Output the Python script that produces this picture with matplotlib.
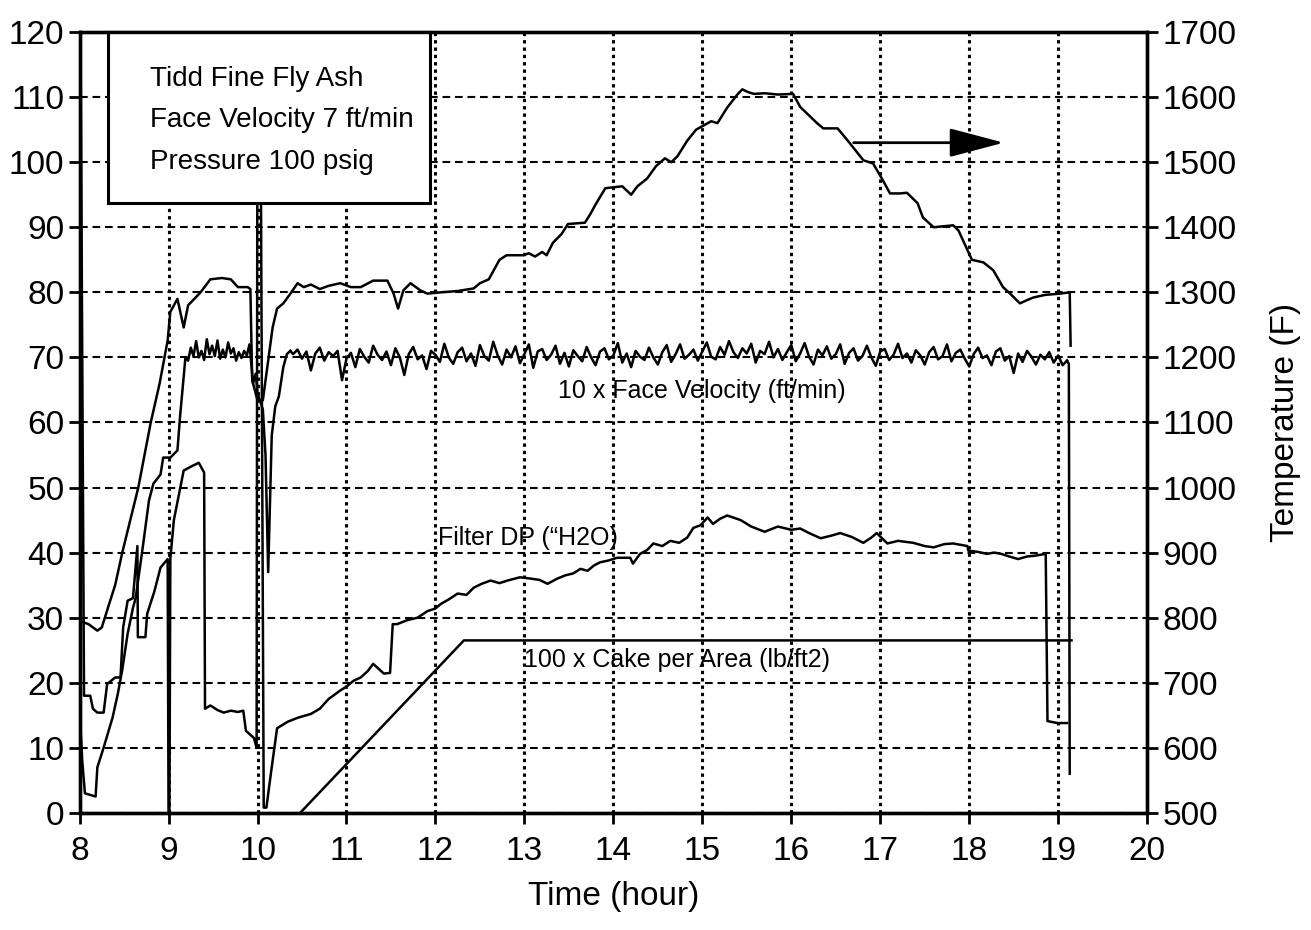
import numpy as np
import matplotlib.pyplot as plt
from matplotlib.patches import Rectangle, FancyArrowPatch

plt.rcParams['font.family'] = ['Liberation Sans', 'DejaVu Sans']

# Temperature (F), right axis
temp_t = [8.0, 8.1, 8.2, 8.25, 8.33, 8.4, 8.48, 8.57, 8.66, 8.73, 8.8, 8.9, 8.99,
          9.02, 9.1, 9.17, 9.22, 9.36, 9.47, 9.6, 9.7, 9.78, 9.89, 9.92, 9.94, 10.0,
          10.06, 10.12, 10.17, 10.22, 10.29, 10.37, 10.45, 10.52, 10.6, 10.7, 10.8,
          10.93, 11.05, 11.16, 11.3, 11.46, 11.53, 11.58, 11.64, 11.72, 11.83, 11.91,
          12.06, 12.25, 12.43, 12.5, 12.6, 12.72, 12.8, 12.99, 13.05, 13.12, 13.2,
          13.25, 13.32, 13.42, 13.49, 13.68, 13.74, 13.8, 13.91, 14.1, 14.2, 14.27,
          14.38, 14.48, 14.58, 14.65, 14.72, 14.83, 14.93, 15.1, 15.17, 15.28, 15.4,
          15.45, 15.51, 15.58, 15.7, 15.85, 16.02, 16.1, 16.29, 16.36, 16.52, 16.63,
          16.81, 16.92, 17.03, 17.11, 17.22, 17.3, 17.42, 17.48, 17.6, 17.82, 17.88,
          17.98, 18.03, 18.16, 18.27, 18.38, 18.46, 18.57, 18.65, 18.72, 18.85, 19.02,
          19.13, 19.14]
temp_f = [795, 790, 780, 785, 820, 850, 900, 950, 1000, 1050, 1100, 1160, 1226,
          1270, 1290, 1246, 1280, 1300, 1320, 1322, 1320, 1308, 1308, 1305, 1165, 1134,
          1134, 1195, 1246, 1275, 1283, 1298, 1314, 1308, 1312, 1305, 1310,
          1314, 1308, 1308, 1318, 1318, 1298, 1275, 1303, 1314, 1303, 1298,
          1300, 1302, 1306, 1314, 1320, 1350, 1357, 1357, 1360, 1355, 1362,
          1357, 1376, 1390, 1405, 1407, 1420, 1435, 1460, 1463, 1450, 1463,
          1475, 1494, 1506, 1500, 1509, 1533, 1550, 1563, 1560, 1584, 1605,
          1612, 1608, 1605, 1606, 1604, 1605, 1585, 1560, 1552, 1552, 1534,
          1503, 1498, 1472, 1452, 1452, 1453, 1437, 1415, 1400, 1403, 1395,
          1365, 1350, 1346, 1334, 1308, 1298, 1283, 1288, 1292, 1296, 1298,
          1300, 1218]

# 10 x Face Velocity (ft/min)
fv_t0 = [8.0, 8.03, 8.06, 8.18, 8.2, 8.27, 8.37, 8.43, 8.48, 8.54, 8.6, 8.63, 8.71,
         8.78, 8.83, 8.91, 8.94, 9.02, 9.1, 9.13, 9.19, 9.22, 9.25, 9.28, 9.31, 9.34,
         9.37, 9.40, 9.43, 9.46, 9.49, 9.52, 9.55, 9.58, 9.61, 9.64, 9.67, 9.70, 9.73,
         9.76, 9.79, 9.82, 9.85, 9.88, 9.91, 9.93, 9.95, 9.98, 10.0, 10.06, 10.09,
         10.12, 10.16, 10.2, 10.24, 10.29, 10.33, 10.37]
fv_v0 = [16, 8, 3, 2.5, 7, 10, 14.6, 18.3, 22, 27.5, 31.5, 33, 40.8,
         48, 50.6, 52, 54.6, 54.6, 55.7, 61, 70, 69.5, 71.5, 70.2, 72.5, 70.0,
         71.0, 69.6, 72.8, 70.5, 71.8, 70.2, 72.6, 69.8, 71.2, 70.0, 72.3, 70.6, 71.4,
         69.5, 70.8, 69.9, 71.0, 70.3, 72.0, 69.0, 66.0, 67.5, 64.5, 62, 55,
         37, 58, 62.5, 64, 68.5, 70.5, 71]
fv_t1 = np.round(np.arange(10.40, 19.11, 0.05), 2)
fv_v1 = [70.5, 71.2, 69.8, 70.9, 68.0, 70.6, 71.5, 69.5, 70.8, 70.2,
         71.0, 66.5, 69.8, 70.7, 68.5, 71.3, 70.1, 69.2, 71.8, 70.4,
         69.6, 70.9, 68.8, 71.4, 70.0, 67.3, 70.5, 71.6, 69.7, 70.3,
         68.2, 71.0, 70.4, 69.3, 72.1, 70.0, 69.0, 70.8, 71.5, 69.4,
         70.6, 68.7, 71.9, 70.2, 69.5, 72.4, 70.3, 68.9, 71.2, 70.0,
         71.7, 69.1, 70.5, 72.0, 68.4, 70.9, 71.3, 69.6, 70.4, 71.8,
         69.0, 70.7, 68.6, 71.1, 70.2, 69.4, 71.6, 70.0, 68.8, 70.9,
         71.4, 69.7, 70.3, 72.2, 69.2, 70.6, 68.5, 71.0, 70.1, 69.6,
         71.5, 70.0, 68.9, 70.8, 71.9, 69.3, 70.5, 72.0, 69.8, 70.4,
         71.2, 69.5, 70.9, 72.3, 70.1, 69.7, 71.6, 70.4, 72.5, 70.8,
         69.9, 71.4, 70.6, 72.1, 69.2, 71.0, 70.5, 72.4, 70.0, 71.3,
         69.6, 70.8, 71.9, 69.4, 70.6, 72.2, 70.1, 68.9, 71.2, 70.3,
         71.7, 69.8, 70.5, 72.0, 69.0, 70.7, 71.4, 69.5, 70.2, 71.8,
         70.0, 68.7, 70.9, 71.3, 69.6, 70.4, 72.1, 69.9, 70.6, 69.2,
         71.1, 70.3, 68.9, 70.8, 71.6, 69.7, 70.2, 72.0, 69.4, 70.7,
         71.2, 69.8, 68.6, 70.5, 71.5, 69.9, 70.3, 68.8, 70.9, 71.4,
         69.5, 70.2, 67.6, 70.6, 69.3, 71.0, 70.1, 68.9, 70.4, 69.7,
         70.8, 69.2, 70.3, 68.8, 69.5]
fv_t2 = [19.12, 19.13]
fv_v2 = [69, 6]

# Filter DP ("H2O)
dp_t = [8.01, 8.05, 8.12, 8.15, 8.2, 8.27, 8.31, 8.4, 8.46, 8.49, 8.54, 8.6, 8.63,
        8.65, 8.655, 8.74, 8.76, 8.84, 8.91, 8.99, 9.0, 9.01, 9.02, 9.06, 9.17, 9.25,
        9.34, 9.4, 9.41, 9.47, 9.55, 9.62, 9.7, 9.78, 9.84, 9.87, 9.92, 9.96, 9.99,
        10.0, 10.03, 10.07, 10.1, 10.15, 10.22, 10.34, 10.45, 10.6, 10.7, 10.8,
        10.93, 11.0, 11.08, 11.16, 11.24, 11.3, 11.42, 11.49, 11.52, 11.57, 11.68,
        11.8, 11.91, 12.0, 12.06, 12.15, 12.25, 12.35, 12.43, 12.52, 12.62, 12.72,
        12.81, 12.95, 13.07, 13.17, 13.26, 13.37, 13.46, 13.55, 13.63, 13.71, 13.78,
        13.85, 13.95, 14.04, 14.19, 14.22, 14.3, 14.38, 14.45, 14.55, 14.64, 14.74,
        14.83, 14.9, 14.98, 15.06, 15.12, 15.2, 15.28, 15.43, 15.55, 15.7, 15.85,
        16.0, 16.1, 16.2, 16.33, 16.45, 16.55, 16.68, 16.81, 16.9, 16.96, 17.08,
        17.2, 17.37, 17.5, 17.6, 17.72, 17.82, 17.98, 17.99, 18.1, 18.2, 18.28,
        18.36, 18.45, 18.55, 18.65, 18.73, 18.86, 18.88, 18.99, 19.1]
dp_v = [122, 18, 18, 16, 15.4, 15.4, 19.8, 20.8, 20.8, 28.5, 32.6, 33, 37.7,
        41, 27, 27, 30.6, 34, 37.7, 39, 0, 0, 39, 45, 52.6, 53.2,
        53.8, 52.3, 16, 16.5, 15.8, 15.4, 15.7, 15.5, 15.7, 12.6, 12, 11.5, 10,
        122, 122, 0.8, 0.8, 6, 13, 14, 14.6, 15.2, 16, 17.5,
        18.8, 19.4, 20.3, 20.8, 21.8, 22.9, 21.4, 21.5, 29, 29, 29.6,
        30, 31, 31.4, 32.1, 32.8, 33.7, 33.5, 34.6, 35.2, 35.7, 35.3,
        35.7, 36.2, 36, 35.8, 35.2, 36, 36.5, 36.8, 37.5, 37.2, 38.0,
        38.5, 38.8, 39.2, 39.2, 38.3, 39.8, 40.4, 41.4, 41.0, 41.8, 41.5,
        42.3, 43.8, 44.2, 45.4, 44.4, 45.2, 45.7, 45, 44, 43.2, 44,
        43.5, 43.7, 43.0, 42.2, 42.6, 43, 42.4, 41.5, 42.3, 43, 41.4,
        41.8, 41.5, 41.0, 40.8, 41.3, 41.4, 41, 40.3, 40.1, 39.8, 40.0,
        39.8, 39.4, 39, 39.4, 39.5, 39.8, 14.1, 13.8, 13.8]

# 100 x Cake per Area (lb/ft2)
cake_t = [10.48, 12.32, 19.15]
cake_v = [0, 26.5, 26.5]

fig = plt.figure(figsize=(13.11, 9.30), dpi=100)
ax = fig.add_axes([0.0607, 0.126, 0.8143, 0.8395])
ax2 = ax.twinx()

lw = 1.8
ax.plot(fv_t0, fv_v0, color='k', lw=lw)
ax.plot(np.r_[fv_t0[-1], fv_t1], np.r_[fv_v0[-1], fv_v1], color='k', lw=lw)
ax.plot([fv_t1[-1]] + fv_t2, [fv_v1[-1]] + fv_v2, color='k', lw=lw)
ax.plot(dp_t, dp_v, color='k', lw=lw)
ax.plot(cake_t, cake_v, color='k', lw=lw)
ax2.plot(temp_t, temp_f, color='k', lw=lw)

ax.set_xlim(8, 20)
ax.set_ylim(0, 120)
ax2.set_ylim(500, 1700)
ax.set_xticks(range(8, 21))
ax.set_yticks(range(0, 121, 10))
ax2.set_yticks(range(500, 1701, 100))

ax.xaxis.grid(True, color='k', lw=2.2, linestyle=(0, (1.1, 1.3)))
ax.yaxis.grid(True, color='k', lw=1.5, linestyle=(0, (3.7, 2.3)))
ax.set_axisbelow(True)

for a in (ax, ax2):
    for s in a.spines.values():
        s.set_linewidth(2.4)
    a.tick_params(direction='out', length=8, width=2, labelsize=24, pad=3)
ax.tick_params(axis='x', pad=9)

ax.set_xlabel('Time (hour)', fontsize=24, labelpad=10)
ax2.set_ylabel('Temperature (F)', fontsize=24, labelpad=24)

# info box
box = Rectangle((0.0267, 0.781), 0.302, 0.219, transform=ax.transAxes,
                facecolor='white', edgecolor='k', lw=2.2, zorder=10, clip_on=False)
ax.add_patch(box)
for i, line in enumerate(['Tidd Fine Fly Ash', 'Face Velocity 7 ft/min',
                          'Pressure 100 psig']):
    ax.text(0.066, 0.94 - i * 0.053, line, transform=ax.transAxes, fontsize=20,
            va='center', ha='left', zorder=11)

ax.text(13.38, 64.8, '10 x Face Velocity (ft/min)', fontsize=18, va='center')
ax.text(12.03, 42.2, 'Filter DP (\u201cH2O)', fontsize=18, va='center')
ax.text(13.0, 23.5, '100 x Cake per Area (lb/ft2)', fontsize=18, va='center')

arrow = FancyArrowPatch((16.67, 103), (18.42, 103), arrowstyle='-|>,head_length=3.4,head_width=0.9',
                        mutation_scale=10, lw=2, color='k', facecolor='#333333')
ax.add_patch(arrow)

fig.savefig('out.png', dpi=100)
